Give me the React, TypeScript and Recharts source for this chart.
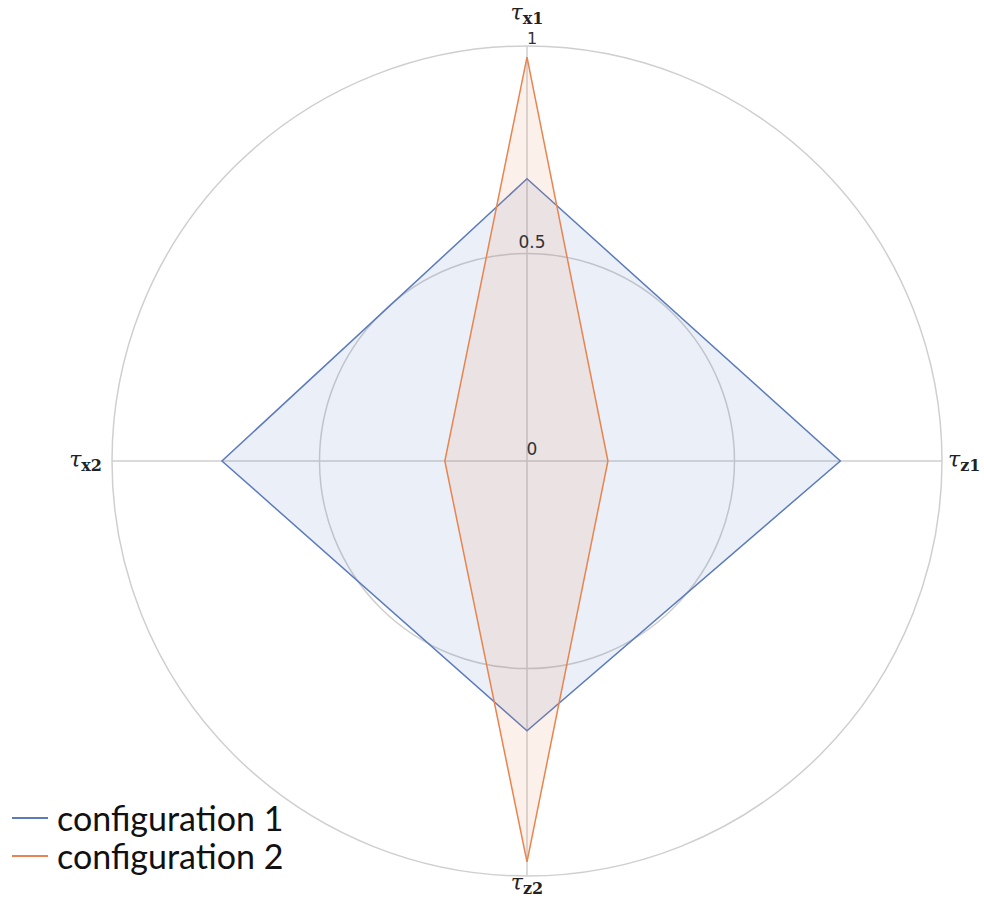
import { RadarChart, Radar, PolarGrid, PolarAngleAxis, PolarRadiusAxis, Legend } from 'recharts';

const axes = ['x1', 'z1', 'z2', 'x2'];
const config1 = [0.68, 0.755, 0.65, 0.735];
const config2 = [0.973, 0.195, 0.966, 0.198];
const radiusTicks = [0, 0.5, 1];
const seriesNames = ['configuration 1', 'configuration 2'];
const colors = ['#5b7bbd', '#e8844f'];

const data = axes.map((a, i) => ({ axis: a, c1: config1[i], c2: config2[i] }));

const CX = 527;
const CY = 461;
const R = 415;

const AngleTick = (props: any) => {
  const { x, y, payload } = props;
  const dx = x - CX;
  const dy = y - CY;
  let tx = x;
  let ty = y;
  let anchor = 'middle';
  if (Math.abs(dx) > Math.abs(dy)) {
    anchor = dx > 0 ? 'start' : 'end';
    tx = x - 2;
    ty = y + 6;
  } else if (dy < 0) {
    ty = y - 18;
  } else {
    ty = y + 6;
  }
  return (
    <text x={tx} y={ty} textAnchor={anchor} fill="#222" fontFamily="'DejaVu Serif', serif">
      <tspan fontSize={22} fontStyle="italic">τ</tspan>
      <tspan fontSize={16} fontWeight="bold" dy={4}>{payload.value}</tspan>
    </text>
  );
};

const RadiusTick = (props: any) => {
  const { x, y, payload } = props;
  const top = payload.value === 1;
  return (
    <text x={x + 5} y={y - (top ? 2 : 6)} textAnchor="middle" fontSize={top ? 16 : 17} fill="#333" fontFamily="'DejaVu Sans', sans-serif">
      {payload.value}
    </text>
  );
};

const LegendBox = () => (
  <div style={{ fontFamily: "Lato, 'Open Sans', sans-serif", fontSize: 34, color: '#111', lineHeight: '38px' }}>
    {seriesNames.map((n, i) => (
      <div key={n} style={{ display: 'flex', alignItems: 'center' }}>
        <span style={{ display: 'inline-block', width: 36, height: 2, background: colors[i], marginRight: 9 }} />
        <span>{n}</span>
      </div>
    ))}
  </div>
);

export default function App() {
  return (
    <div style={{ position: 'absolute', left: 0, top: 0, width: 984, height: 911, background: '#fff' }}>
      <RadarChart width={984} height={911} data={data} cx={CX} cy={CY} outerRadius={R} margin={{ top: 0, right: 0, bottom: 0, left: 0 }}>
        <PolarGrid gridType="circle" stroke="#cfcfcf" strokeWidth={1.5} />
        <PolarAngleAxis dataKey="axis" tick={<AngleTick />} tickLine={false} axisLine={false} />
        <PolarRadiusAxis angle={90} domain={[0, 1]} ticks={radiusTicks as any} tick={<RadiusTick />} axisLine={false} tickLine={false} />
        <Radar name={seriesNames[0]} dataKey="c1" stroke={colors[0]} strokeWidth={1.5} fill={colors[0]} fillOpacity={0.12} isAnimationActive={false} />
        <Radar name={seriesNames[1]} dataKey="c2" stroke={colors[1]} strokeWidth={1.5} fill={colors[1]} fillOpacity={0.12} isAnimationActive={false} />
        <Legend content={<LegendBox />} wrapperStyle={{ position: 'absolute', left: 12, top: 799, width: 340 }} />
      </RadarChart>
    </div>
  );
}
